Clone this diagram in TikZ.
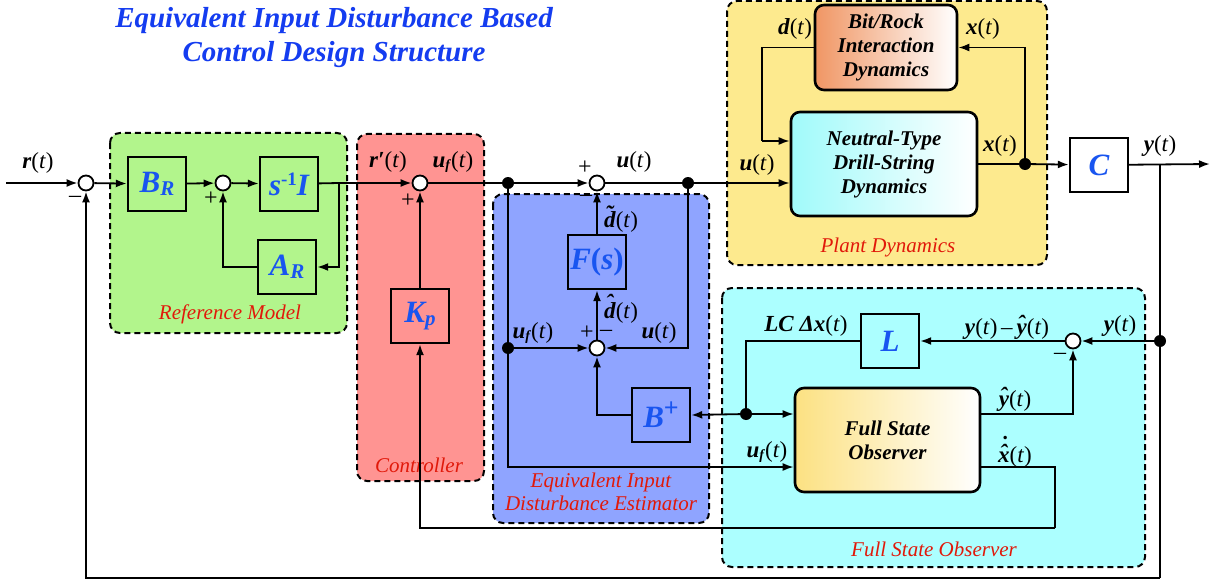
\documentclass[tikz,border=0pt]{standalone}
\usepackage{fontspec}
\setmainfont{Liberation Serif}
\usetikzlibrary{arrows.meta,calc}
\definecolor{ttlblue}{RGB}{20,60,240}
\definecolor{blkblue}{RGB}{25,85,240}
\definecolor{grpred}{RGB}{225,25,10}
\definecolor{grn}{RGB}{178,245,140}
\definecolor{rd}{RGB}{255,148,146}
\definecolor{bl}{RGB}{143,164,255}
\definecolor{yl}{RGB}{253,234,142}
\definecolor{cy}{RGB}{172,255,255}
\definecolor{org}{RGB}{240,150,100}
\definecolor{cyg}{RGB}{160,250,250}
\definecolor{ylg}{RGB}{252,225,130}
\newcommand\bi[1]{\textbf{\textit{#1}}}
\newcommand\sg[1]{\bi{#1}(\textit{t})}
\newcommand\ovl[3]{\setbox0=\hbox{#2}\hbox to \wd0{\hss\raisebox{#3}{#1}\hss}\kern-\wd0\box0}
\newcommand\uf{\bi{u}\raisebox{-2pt}{\fontsize{14}{14}\selectfont\bi{f}}(\textit{t})}
\tikzset{
  lbl/.style={font=\fontsize{23}{25}\selectfont, inner sep=0pt},
  sgn/.style={font=\fontsize{24}{24}\selectfont, inner sep=0pt},
  blk/.style={draw, line width=2.4pt, minimum width=58pt, minimum height=54pt, inner sep=0pt,
     text=blkblue, font=\fontsize{31}{31}\selectfont\bfseries\itshape},
  rblk/.style={draw, line width=2.6pt, rounded corners=9pt, inner sep=0pt, align=center,
     font=\fontsize{21}{24}\selectfont\bfseries\itshape},
  sumc/.style={circle, draw, fill=white, line width=1.8pt, minimum size=15pt, inner sep=0pt},
  dotn/.style={circle, fill=black, minimum size=12pt, inner sep=0pt},
  grp/.style={draw, line width=2pt, rounded corners=10pt, dash pattern=on 6pt off 4pt},
  grplbl/.style={text=grpred, font=\fontsize{21}{26}\selectfont\itshape, align=center, inner sep=0pt},
  wire/.style={line width=1.8pt},
  conn/.style={line width=1.8pt, -{Latex[length=11pt,width=8pt]}},
}
\begin{document}
\begin{tikzpicture}[x=1pt,y=-1pt]
\useasboundingbox (0,0) rectangle (1215,583);
% title
\node[text=ttlblue, font=\fontsize{29}{34}\selectfont\bfseries\itshape, align=center] (title) at (334,38)
  {Equivalent Input Disturbance Based\\Control Design Structure};
% groups
\draw[grp, fill=grn] (110,133) rectangle (347,333);
\draw[grp, fill=rd] (357,134) rectangle (484,481);
\draw[grp, fill=bl] (493,194) rectangle (709,523);
\draw[grp, fill=yl] (727,1) rectangle (1047,265);
\draw[grp, fill=cy] (722,288) rectangle (1145,567);
\node[grplbl] (g1) at (230,314) {Reference Model};
\node[grplbl] (g2) at (419,465) {Controller};
\node[grplbl] (g3) at (601,492) {Equivalent Input\\[-3pt]Disturbance Estimator};
\node[grplbl] (g4) at (888,247) {Plant Dynamics};
\node[grplbl] (g5) at (934,549) {Full State Observer};
% blocks
\node[blk] (BR) at (157,184) {B\raisebox{-3pt}{\fontsize{21}{21}\selectfont R}};
\node[blk] (SI) at (289,184) {s\raisebox{10pt}{\fontsize{19}{19}\selectfont\upshape -1}I};
\node[blk] (AR) at (287,267) {A\raisebox{-3pt}{\fontsize{21}{21}\selectfont R}};
\node[blk] (Kp) at (420,316) {K\raisebox{-3pt}{\fontsize{21}{21}\selectfont p}};
\node[blk] (F) at (597,262) {F\textup{(}s\textup{)}};
\node[blk] (Bp) at (661,415) {B\raisebox{11pt}{\fontsize{26}{26}\selectfont\upshape +}};
\node[blk] (L) at (890,341) {L};
\node[blk, fill=white] (C) at (1099,165) {C};
\node[rblk, minimum width=142pt, minimum height=85pt, left color=org, right color=white] (BRI) at (886,47.5)
  {Bit/Rock\\Interaction\\Dynamics};
\node[rblk, minimum width=186pt, minimum height=104pt, left color=cyg, right color=white] (NT) at (884,164)
  {Neutral-Type\\Drill-String\\Dynamics};
\node[rblk, minimum width=185pt, minimum height=104pt, left color=ylg, right color=white] (FSO) at (887.5,440)
  {Full State\\Observer};
% sums and dots
\node[sumc] (s1) at (86,183) {};
\node[sumc] (s2) at (223,183) {};
\node[sumc] (s3) at (420,183) {};
\node[sumc] (s5) at (597,183) {};
\node[sumc] (s4) at (597,348) {};
\node[sumc] (s6) at (1073,341) {};
\node[dotn] (d1) at (508,183) {};
\node[dotn] (d2) at (688,183) {};
\node[dotn] (d3) at (508,348) {};
\node[dotn] (d4) at (1025,164) {};
\node[dotn] (d5) at (1160,341) {};
\node[dotn] (d6) at (746,414) {};
\coordinate (in) at (6,183);
\coordinate (b1) at (339,183);
\coordinate (dk) at (762,141);
\coordinate (yb) at (1160,164);
\coordinate (out) at (1210,164);
\coordinate (bot) at (1160,578);
\coordinate (kx) at (1055,528);
% connectors
\draw[conn] (in) -- (s1);
\draw[conn] (s1) -- (BR);
\draw[conn] (BR) -- (s2);
\draw[conn] (s2) -- (SI);
\draw[wire] (SI) -- (b1);
\draw[conn] (b1) -- (s3);
\draw[conn] (b1) |- (AR.east);
\draw[conn] (AR.west) -| (s2.south);
\draw[wire] (s3) -- (d1);
\draw[conn] (d1) -- (s5);
\draw[wire] (s5) -- (d2);
\draw[conn] (d2) -- (d2 -| NT.west);
\draw[wire] (d1) -- (d3);
\draw[conn] (d3) -- (s4);
\draw[conn] (d3) |- (FSO.west |- 0,467);
\draw[conn] (d2) |- (s4.east);
\draw[conn] (s4) -- (F);
\draw[conn] (F) -- (s5);
\draw[conn] (Bp.west) -| (s4.south);
\draw[conn] (Kp) -- (s3);
\draw[wire] (BRI.west) -| (dk);
\draw[conn] (dk) -- (dk -| NT.west);
\draw[wire] (NT.east) -- (d4);
\draw[conn] (d4) -- (C);
\draw[conn] (d4) |- (BRI.east);
\draw[conn] (C) -- (out);
\draw[wire] (yb) -- (d5) -- (bot);
\draw[conn] (bot) -| (s1.south);
\draw[conn] (d5) -- (s6);
\draw[conn] (s6) -- (L);
\draw[wire] (L.west) -| (d6);
\draw[conn] (d6) -- (d6 -| FSO.west);
\draw[conn] (d6) -- (Bp.east);
\draw[conn] (FSO.east |- d6) -| (s6.south);
\draw[wire] (FSO.east |- 0,467) -| (kx);
\draw[conn] (kx) -| (Kp.south);
% signal labels
\node[lbl] (lr) at (38,163) {\sg{r}};
\node[lbl] (lrp) at (388,162) {\bi{r′}(\textit{t})};
\node[lbl] (luf1) at (453,162) {\uf};
\node[lbl] (lu1) at (634,162) {\sg{u}};
\node[lbl] (ldt) at (621,219) {\ovl{\bi{\char"02DC}}{\bi{d}}{6pt}(\textit{t})};
\node[lbl] (ldh) at (621,309) {\ovl{\bi{\char"02C6}}{\bi{d}}{8pt}(\textit{t})};
\node[lbl] (luf2) at (533,333) {\uf};
\node[lbl] (lu2) at (659,333) {\sg{u}};
\node[lbl] (lu3) at (757,165) {\sg{u}};
\node[lbl] (ld) at (795,29) {\sg{d}};
\node[lbl] (lx1) at (983,29) {\sg{x}};
\node[lbl] (lx2) at (1000,146) {\sg{x}};
\node[lbl] (ly1) at (1160,146) {\sg{y}};
\node[lbl] (ly2) at (1120,326) {\sg{y}};
\node[lbl] (lyd) at (1007,327) {\sg{y}\,–\,\ovl{\bi{\char"02C6}}{\bi{y}}{3pt}(\textit{t})};
\node[lbl] (llc) at (806,326) {\bi{LC Δx}(\textit{t})};
\node[lbl] (lyh) at (1015,399) {\ovl{\bi{\char"02C6}}{\bi{y}}{3pt}(\textit{t})};
\node[lbl] (lxh) at (1015,452) {\ovl{\bi{\char"02D9}}{\ovl{\bi{\char"02C6}}{\bi{x}}{2pt}}{10pt}(\textit{t})};
\node[lbl] (luf3) at (767,452) {\uf};
% signs
\node[sgn] (m1) at (75,199) {–};
\node[sgn] (p2) at (211,199) {+};
\node[sgn] (p3) at (408,201) {+};
\node[sgn] (p5) at (585,168) {+};
\node[sgn] (m5) at (586,198) {–};
\node[sgn] (p4) at (587,333) {+};
\node[sgn] (m4) at (606,333) {–};
\node[sgn] (m6) at (1060,356) {–};
\end{tikzpicture}
\end{document}
